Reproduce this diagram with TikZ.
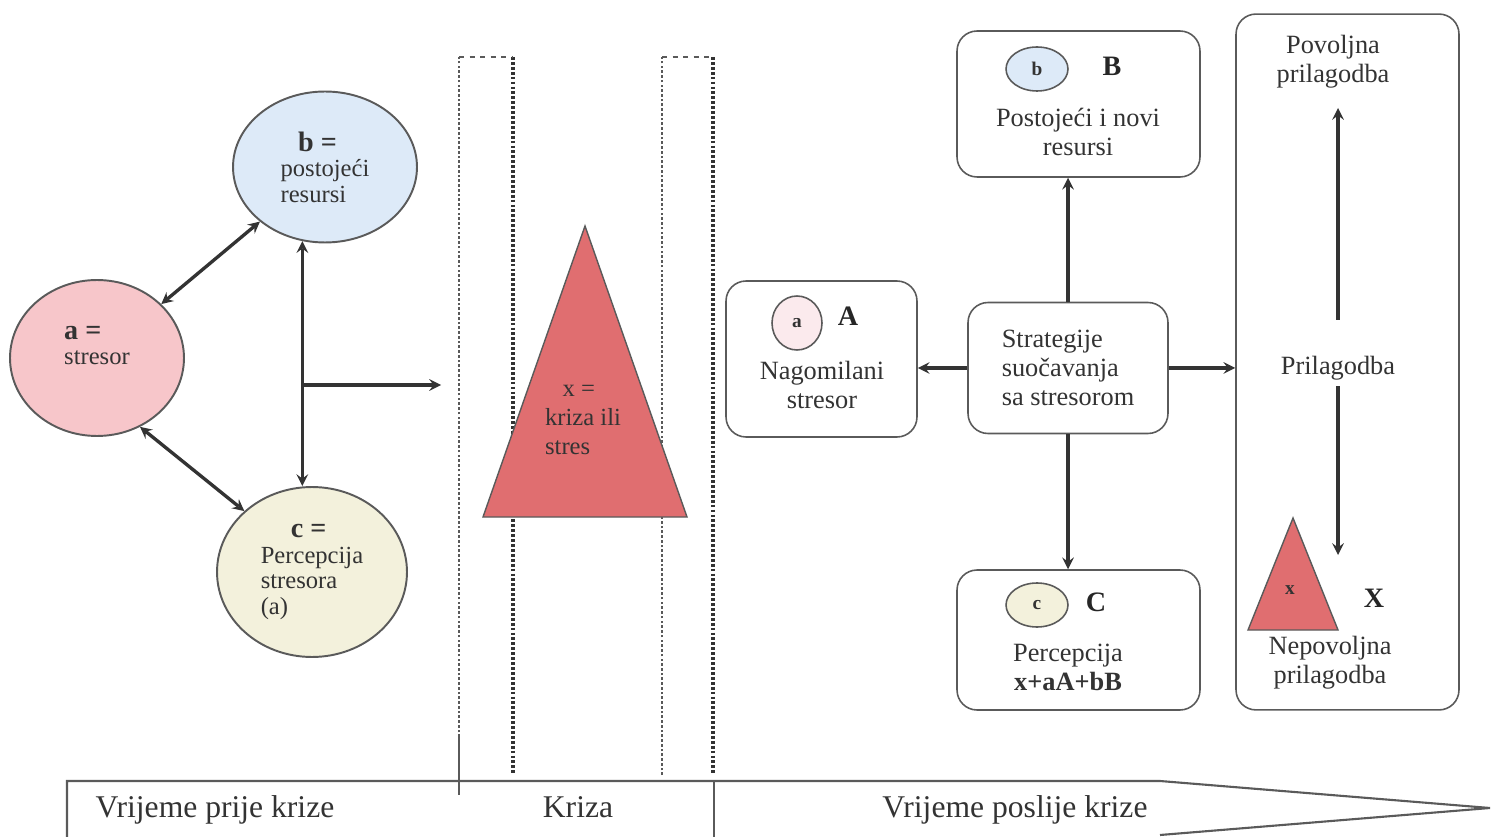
\documentclass[tikz,border=0pt]{standalone}
\usepackage{fontspec}
\setmainfont{Liberation Serif}
\usetikzlibrary{shapes.geometric}

\definecolor{stresorpink}{RGB}{247,198,202}
\definecolor{resursblue}{RGB}{221,234,248}
\definecolor{percbeige}{RGB}{243,241,220}
\definecolor{krizared}{RGB}{224,110,112}
\definecolor{lightpink}{RGB}{251,234,237}
\definecolor{linegray}{RGB}{90,90,90}

\begin{document}
\begin{tikzpicture}[x=0.02cm, y=-0.02cm,
    bubble/.style={ellipse, draw=linegray, line width=1.1pt, inner sep=0pt, align=left, text=black!80, font=\fontsize{14}{14.5}\selectfont},
    rbox/.style={draw=linegray, line width=0.9pt, rounded corners=0.4cm, inner sep=0pt},
    minicirc/.style={ellipse, draw=linegray, line width=0.9pt, inner sep=0pt, text=black!80, font=\fontsize{11}{12}\selectfont\bfseries},
    txt/.style={align=center, text=black!80, font=\fontsize{15}{16.5}\selectfont},
    letter/.style={text=black!85, font=\fontsize{16}{17}\selectfont\bfseries},
    timetext/.style={anchor=base, text=black!80, font=\fontsize{18}{20}\selectfont},
    arr/.style={->, >=stealth, line width=1.9pt, black!80}]
    \useasboundingbox (0,0) rectangle (1497,837);

    % before the crisis
    \node[bubble, fill=stresorpink, minimum width=3.48cm, minimum height=3.12cm] (a) at (97,358)
        {{\fontsize{16}{17}\selectfont\bfseries a =}\\stresor\hspace*{0.4cm}\\ \mbox{}};
    \node[bubble, fill=resursblue, minimum width=3.68cm, minimum height=3.02cm] (b) at (325,167)
        {\hspace*{0.35cm}{\fontsize{16}{17}\selectfont\bfseries b =}\\postojeći\\resursi};
    \node[bubble, fill=percbeige, minimum width=3.8cm, minimum height=3.4cm] (c) at (312,572)
        {\hspace*{0.6cm}{\fontsize{16}{17}\selectfont\bfseries c =}\\Percepcija\\stresora\\(a)};
    \coordinate (kr) at (441,385);
    \draw[arr, <->] (a.40) -- (b.220);
    \draw[arr, <->] (a.-58) -- (c.138);
    \draw[arr, <->] (b.-107) -- (b.-107 |- c.north);
    \draw[arr] (b.-107 |- kr) -- (kr);

    % crisis
    \foreach \l/\r in {459/513, 662/713} {
        \draw[dash pattern=on 1.5pt off 1.2pt, line width=1.6pt, black!65] (\l,775) -- (\l,57);
        \draw[dash pattern=on 1.6pt off 1.2pt, line width=1.8pt, black!80] (\r,57) -- (\r,775);
        \draw[dashed, thick, linegray] (\l,57) -- (\r,57);
    }
    \filldraw[fill=krizared, draw=linegray, thick] (585,226) -- (687,517) -- (483,517) -- cycle;
    \node[align=left, text=black!80, font=\fontsize{14}{16.5}\selectfont] (x) at (583,420)
        {\hspace*{0.35cm}x =\\kriza ili\\stres};

    % after the crisis
    \node[rbox, minimum width=3.82cm, minimum height=3.12cm] (boxA) at (821.5,359) {};
    \node[minicirc, fill=lightpink, minimum width=1cm, minimum height=1.08cm] (sa) at (797,323) {a};
    \node[letter] (A) at (848,316) {A};
    \node[txt] (ta) at (822,385) {Nagomilani\\stresor};

    \node[rbox, minimum width=4.86cm, minimum height=2.92cm] (boxB) at (1078.5,104) {};
    \node[minicirc, fill=resursblue, minimum width=1.24cm, minimum height=0.88cm] (sb) at (1037,69) {b};
    \node[letter] (B) at (1112,66) {B};
    \node[txt] (tb) at (1078,132) {Postojeći i novi\\resursi};

    \node[rbox, minimum width=4.86cm, minimum height=2.8cm] (boxC) at (1078.5,640) {};
    \node[minicirc, fill=percbeige, minimum width=1.24cm, minimum height=0.88cm] (sc) at (1037,605) {c};
    \node[letter] (C) at (1096,602) {C};
    \node[txt] (tc) at (1068,667) {Percepcija\\\textbf{x+aA+bB}};

    \node[rbox, txt, align=left, minimum width=4cm, minimum height=2.62cm] (strat) at (1068,368)
        {Strategije\\suočavanja\\sa stresorom};

    \node[rbox, minimum width=4.46cm, minimum height=13.92cm] (adapt) at (1347.5,362) {};
    \node[txt] (pov) at (1333,62) {Povoljna\\prilagodba};
    \node[txt] (pril) at (1338,368) {Prilagodba};
    \coordinate (pos) at (1338,108);
    \coordinate (neg) at (1338,555);
    \draw[arr] ([yshift=0.6cm]pril.north) -- (pos);
    \draw[arr] (pril.south) -- (neg);
    \filldraw[fill=krizared, draw=linegray, thick] (1293,518) -- (1338,630) -- (1248,630) -- cycle;
    \node[text=black!80, font=\fontsize{11}{12}\selectfont\bfseries] (xs) at (1290,590) {x};
    \node[letter] (X) at (1374,598) {X};
    \node[txt] (nepov) at (1330,663) {Nepovoljna\\prilagodba};

    \draw[arr] (strat.west) -- (strat.west -| boxA.east);
    \draw[arr] (strat.north) -- (strat.north |- boxB.south);
    \draw[arr] (strat.south) -- (strat.south |- boxC.north);
    \draw[arr] (strat.east) -- (strat.east -| adapt.west);

    % time line
    \draw[linegray, line width=1.2pt] (67,837) -- (67,781) -- (1160,781) -- (1490,808) -- (1160,835);
    \draw[linegray, thick] (714,781) -- (714,837);
    \draw[linegray, thick] (459,735) -- (459,795);
    \node[timetext] (before) at (215,817) {Vrijeme prije krize};
    \node[timetext] (during) at (578,817) {Kriza};
    \node[timetext] (after) at (1015,817) {Vrijeme poslije krize};
\end{tikzpicture}
\end{document}
